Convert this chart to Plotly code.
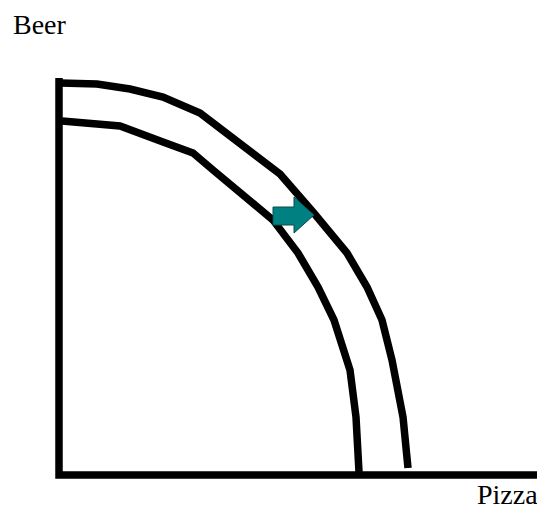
import plotly.graph_objects as go

# Axes (data units: pizza on x, beer on y)
axis_x = [0, 0, 481]
axis_y = [397, 0, 0]

# Outer (shifted) production possibilities frontier
outer_pizza = [1, 38, 71, 104, 141, 188, 221, 254, 288, 308, 323, 333, 344, 349]
outer_beer = [392, 391, 386, 378, 362, 326, 301, 263, 222, 188, 155, 115, 58, 7]

# Inner (original) production possibilities frontier
inner_pizza = [3, 61, 104, 134, 154, 188, 214, 239, 259, 275, 283, 291, 297, 300]
inner_beer = [354, 349, 333, 322, 305, 278, 255, 222, 188, 155, 130, 105, 58, 3]

# Shift arrow outline
arrow_x = [214, 235, 235, 255, 235, 235, 214, 214]
arrow_y = [268, 268, 278, 260, 242, 250, 250, 268]

fig = go.Figure()
fig.add_trace(go.Scatter(x=axis_x, y=axis_y, mode="lines",
                         line=dict(color="black", width=7.5), hoverinfo="skip"))
fig.add_trace(go.Scatter(x=outer_pizza, y=outer_beer, mode="lines",
                         line=dict(color="black", width=7.5), hoverinfo="skip"))
fig.add_trace(go.Scatter(x=inner_pizza, y=inner_beer, mode="lines",
                         line=dict(color="black", width=7.5), hoverinfo="skip"))
fig.add_trace(go.Scatter(x=arrow_x, y=arrow_y, mode="lines", fill="toself",
                         fillcolor="#008080", line=dict(color="#0b4d4d", width=1),
                         hoverinfo="skip"))

font = dict(family="Liberation Serif, Times New Roman, serif", size=28, color="black")
fig.add_annotation(x=-47, y=451, text="Beer", showarrow=False, font=font,
                   xanchor="left", yanchor="middle", borderpad=0)
fig.add_annotation(x=480, y=-36, text="Pizza", showarrow=False, font=font,
                   xanchor="right", yanchor="bottom", borderpad=0)

fig.update_layout(
    width=537, height=506,
    margin=dict(l=0, r=0, t=0, b=0),
    paper_bgcolor="white", plot_bgcolor="white",
    showlegend=False,
    xaxis=dict(range=[-51, 486], visible=False, fixedrange=True),
    yaxis=dict(range=[-39, 467], visible=False, fixedrange=True),
)

fig.write_html("out.html")
